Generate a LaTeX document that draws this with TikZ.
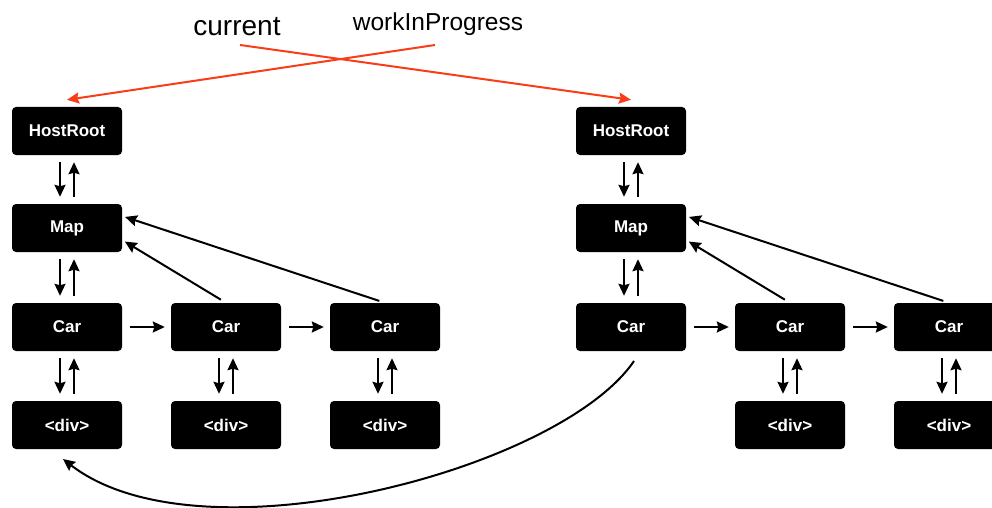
\documentclass[tikz,border=0pt]{standalone}
\usepackage{fontspec}
\setmainfont{Liberation Sans}
\usetikzlibrary{arrows.meta,positioning}
\definecolor{ptrred}{RGB}{250,60,25}
\tikzset{
  fiber/.style={fill=black,rounded corners=4pt,minimum width=110pt,minimum height=48pt,
    text=white,font=\fontsize{17}{17}\selectfont\bfseries,inner sep=0pt},
  arr/.style={-{Stealth[length=12pt,width=11pt,inset=1.5pt]},line width=2pt},
  ptr/.style={-{Stealth[length=12pt,width=11pt,inset=1.5pt]},line width=2pt,draw=ptrred}
}
% child/return arrows between two stacked boxes
\newcommand{\linkpair}[2]{%
  \draw[arr,shorten <=7pt,shorten >=7pt] ([xshift=-7pt]#1.south) -- ([xshift=-7pt]#2.north);
  \draw[arr,shorten <=7pt,shorten >=7pt] ([xshift=7pt]#2.north) -- ([xshift=7pt]#1.south);}
\begin{document}
\begin{tikzpicture}[x=1pt,y=-1pt]
  \useasboundingbox (0,0) rectangle (992,508);

  % pointer labels
  \node (cur) at (237,27) {\fontsize{28}{28}\selectfont current};
  \node (wip) at (438,24) {\fontsize{24.5}{24.5}\selectfont workInProgress};

  % current tree (left)
  \node[fiber] (hrA)   at (67,131)  {HostRoot};
  \node[fiber] (mapA)  at (67,228)  {Map};
  \node[fiber] (carA1) at (67,327)  {Car};
  \node[fiber] (carA2) at (226,327) {Car};
  \node[fiber] (carA3) at (385,327) {Car};
  \node[fiber] (divA1) at (67,425)  {<div>};
  \node[fiber] (divA2) at (226,425) {<div>};
  \node[fiber] (divA3) at (385,425) {<div>};

  % workInProgress tree (right)
  \node[fiber] (hrB)   at (631,131) {HostRoot};
  \node[fiber] (mapB)  at (631,228) {Map};
  \node[fiber] (carB1) at (631,327) {Car};
  \node[fiber] (carB2) at (790,327) {Car};
  \node[fiber] (carB3) at (949,327) {Car};
  \node[fiber] (divB2) at (790,425) {<div>};
  \node[fiber] (divB3) at (949,425) {<div>};

  \linkpair{hrA}{mapA}
  \linkpair{mapA}{carA1}
  \linkpair{carA1}{divA1}
  \linkpair{carA2}{divA2}
  \linkpair{carA3}{divA3}
  \linkpair{hrB}{mapB}
  \linkpair{mapB}{carB1}
  \linkpair{carB2}{divB2}
  \linkpair{carB3}{divB3}

  % siblings
  \draw[arr,shorten <=8pt,shorten >=6pt] (carA1) -- (carA2);
  \draw[arr,shorten <=8pt,shorten >=6pt] (carA2) -- (carA3);
  \draw[arr,shorten <=8pt,shorten >=6pt] (carB1) -- (carB2);
  \draw[arr,shorten <=8pt,shorten >=6pt] (carB2) -- (carB3);

  % return to parent
  \draw[arr,shorten <=6pt,shorten >=3pt] (carA2.north) -- ([yshift=-12pt]mapA.east);
  \draw[arr,shorten <=6pt,shorten >=3pt] (carA3.north) -- ([yshift=12pt]mapA.east);
  \draw[arr,shorten <=6pt,shorten >=3pt] (carB2.north) -- ([yshift=-12pt]mapB.east);
  \draw[arr,shorten <=6pt,shorten >=3pt] (carB3.north) -- ([yshift=12pt]mapB.east);

  % shared child
  \coordinate (carFoot) at (634,361);
  \coordinate (divTip) at (63,459);
  \draw[arr] (carFoot) .. controls (560,470) and (200,565) .. (divTip);

  % red pointers
  \coordinate (curFoot) at (240,45);
  \coordinate (wipFoot) at (435,45);
  \coordinate (hrAtip) at ([yshift=7pt]hrA.north);
  \coordinate (hrBtip) at ([yshift=7pt]hrB.north);
  \draw[ptr] (curFoot) -- (hrBtip);
  \draw[ptr] (wipFoot) -- (hrAtip);
\end{tikzpicture}
\end{document}
